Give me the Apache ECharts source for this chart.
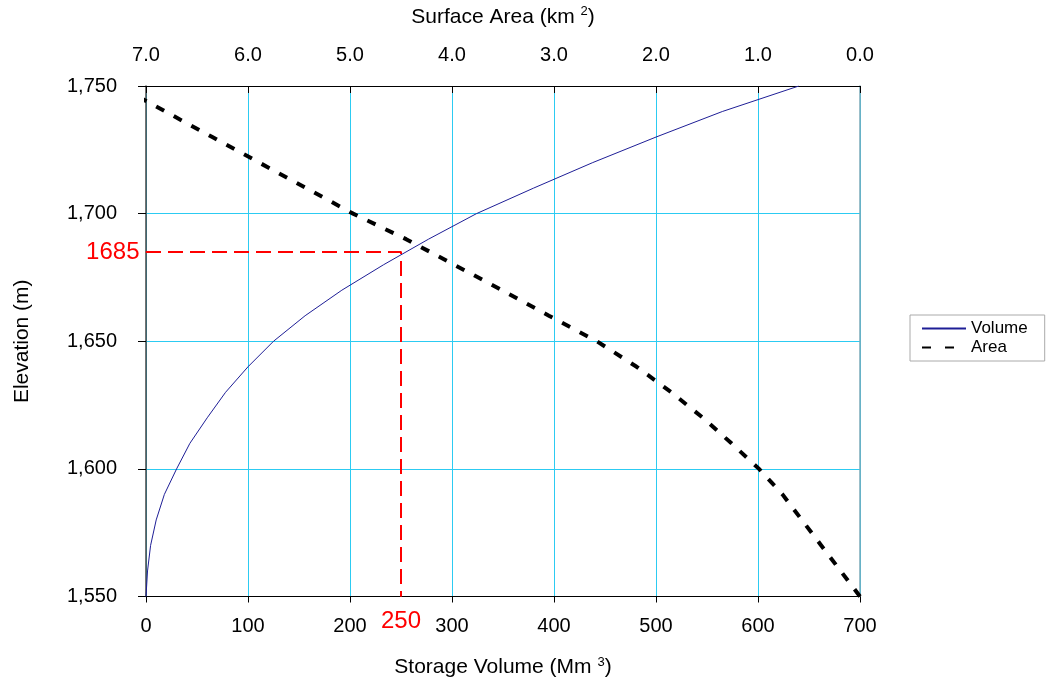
<!DOCTYPE html>
<html>
<head>
<meta charset="utf-8">
<script src="https://cdn.jsdelivr.net/npm/echarts@6/dist/echarts.min.js"></script>
<style>html,body{margin:0;padding:0;background:#fff;}#c{width:1048px;height:683px;}</style>
</head>
<body>
<div id="c"></div>
<script>
// Elevation (m) levels
const volumeElev = [1550, 1560, 1570, 1580, 1590, 1600, 1610, 1620, 1630, 1640, 1650, 1660, 1670, 1680, 1690, 1700, 1710, 1720, 1730, 1740, 1750];
// Storage volume (Mm3) at each elevation
const volumeVals = [0, 1.5, 4.5, 10, 18, 30, 43, 60, 78, 100, 125, 156, 192, 233, 277, 324, 380, 438, 500, 565, 640];
// Surface area (km2) at each elevation
const areaElev = [1550, 1560, 1570, 1580, 1590, 1600, 1610, 1620, 1630, 1640, 1650, 1660, 1670, 1680, 1690, 1700, 1710, 1720, 1730, 1740, 1750];
const areaVals = [0, 0.19, 0.38, 0.57, 0.76, 0.99, 1.26, 1.54, 1.85, 2.19, 2.58, 3.05, 3.51, 3.98, 4.45, 4.97, 5.43, 5.89, 6.35, 6.81, 7.27];
// Annotation: reading at 250 Mm3 -> 1685 m
const readVolume = 250;
const readElev = 1685;
const volTicks = [0, 700, 100];
const areaTicks = [0, 7, 1];
const elevTicks = [1550, 1750, 50];

const FONT = '"Liberation Sans", Arial, sans-serif';
const chart = echarts.init(document.getElementById('c'), null, {renderer: 'canvas'});
const fmtComma = v => String(v).replace(/\B(?=(\d{3})+(?!\d))/g, ',');
const supRich = {sup: {fontSize: 13, fontFamily: FONT, color: '#000', padding: [0, 0, 11, 0]}};

chart.setOption({
  animation: false,
  textStyle: {fontFamily: FONT},
  grid: {left: 146, right: 188, top: 86, bottom: 86},
  legend: {
    data: [
      {name: 'Volume'},
      {name: 'Area', lineStyle: {type: [9, 14]}}
    ],
    orient: 'vertical',
    left: 910, top: 315,
    padding: [5, 17, 5, 11],
    itemGap: 2,
    itemWidth: 44, itemHeight: 18,
    borderColor: '#aaaaaa', borderWidth: 1,
    textStyle: {fontSize: 17, color: '#000', fontFamily: FONT}
  },
  xAxis: [
    {
      type: 'value', position: 'bottom',
      min: volTicks[0], max: volTicks[1], interval: volTicks[2],
      name: 'Storage Volume (Mm {sup|3})', nameLocation: 'middle', nameGap: 59,
      nameTextStyle: {fontSize: 21, color: '#000', fontFamily: FONT, rich: supRich},
      axisLine: {onZero: false, lineStyle: {color: '#000', width: 1}},
      axisTick: {show: true, inside: false, length: 6, lineStyle: {color: '#000'}},
      axisLabel: {fontSize: 20, color: '#000', margin: 20, fontFamily: FONT},
      splitLine: {show: true, lineStyle: {color: '#2ccbf2', width: 1}}
    },
    {
      type: 'value', position: 'top', inverse: true,
      min: areaTicks[0], max: areaTicks[1], interval: areaTicks[2],
      name: 'Surface Area (km {sup|2})', nameLocation: 'middle', nameGap: 57,
      nameTextStyle: {fontSize: 21, color: '#000', fontFamily: FONT, rich: supRich},
      axisLine: {onZero: false, lineStyle: {color: '#000', width: 1}},
      axisTick: {show: true, inside: true, length: 7, lineStyle: {color: '#000'}},
      axisLabel: {fontSize: 20, color: '#000', margin: 21, fontFamily: FONT, formatter: v => v.toFixed(1)},
      splitLine: {show: false}
    }
  ],
  yAxis: [
    {
      type: 'value', position: 'left',
      min: elevTicks[0], max: elevTicks[1], interval: elevTicks[2],
      name: 'Elevation (m)', nameLocation: 'middle', nameGap: 113,
      nameTextStyle: {fontSize: 21, color: '#000', fontFamily: FONT},
      axisLine: {onZero: false, lineStyle: {color: '#444', width: 1.5}},
      axisTick: {show: true, inside: false, length: 8, lineStyle: {color: '#000'}},
      axisLabel: {fontSize: 20, color: '#000', margin: 29, fontFamily: FONT, formatter: fmtComma},
      splitLine: {show: true, lineStyle: {color: '#2ccbf2', width: 1}}
    },
    {
      type: 'value', position: 'right',
      min: elevTicks[0], max: elevTicks[1], interval: elevTicks[2],
      axisLine: {show: true, onZero: false, lineStyle: {color: '#7aaab8', width: 1.5}},
      axisTick: {show: false}, axisLabel: {show: false}, splitLine: {show: false}
    }
  ],
  series: [
    {
      name: 'Volume', type: 'line', xAxisIndex: 0, yAxisIndex: 0,
      data: volumeVals.map((v, i) => [v, volumeElev[i]]),
      symbol: 'none', smooth: false,
      lineStyle: {color: '#1e1e96', width: 1},
      itemStyle: {color: '#1e1e96', opacity: 0},
      z: 4
    },
    {
      name: 'Area', type: 'line', xAxisIndex: 1, yAxisIndex: 0,
      data: areaVals.map((v, i) => [v, areaElev[i]]),
      symbol: 'none', smooth: false, clip: false,
      lineStyle: {color: '#000', width: 4, type: [9, 11]},
      itemStyle: {color: '#000', opacity: 0},
      z: 3
    },
    {
      name: 'Reading', type: 'line', xAxisIndex: 0, yAxisIndex: 0,
      data: [
        {value: [0, readElev], label: {show: true, position: 'left', distance: 6, formatter: String(readElev), fontSize: 24, color: '#ff0000', fontFamily: FONT}},
        {value: [readVolume, readElev]},
        {value: [readVolume, elevTicks[0]], label: {show: true, position: 'bottom', distance: 12, formatter: String(readVolume), fontSize: 24, color: '#ff0000', fontFamily: FONT}}
      ],
      symbol: 'circle', symbolSize: 1, showSymbol: true, clip: false,
      lineStyle: {color: '#ff0000', width: 2, type: [15, 7]},
      itemStyle: {color: '#ff0000'},
      label: {show: false},
      z: 5
    }
  ]
});
</script>
</body>
</html>
